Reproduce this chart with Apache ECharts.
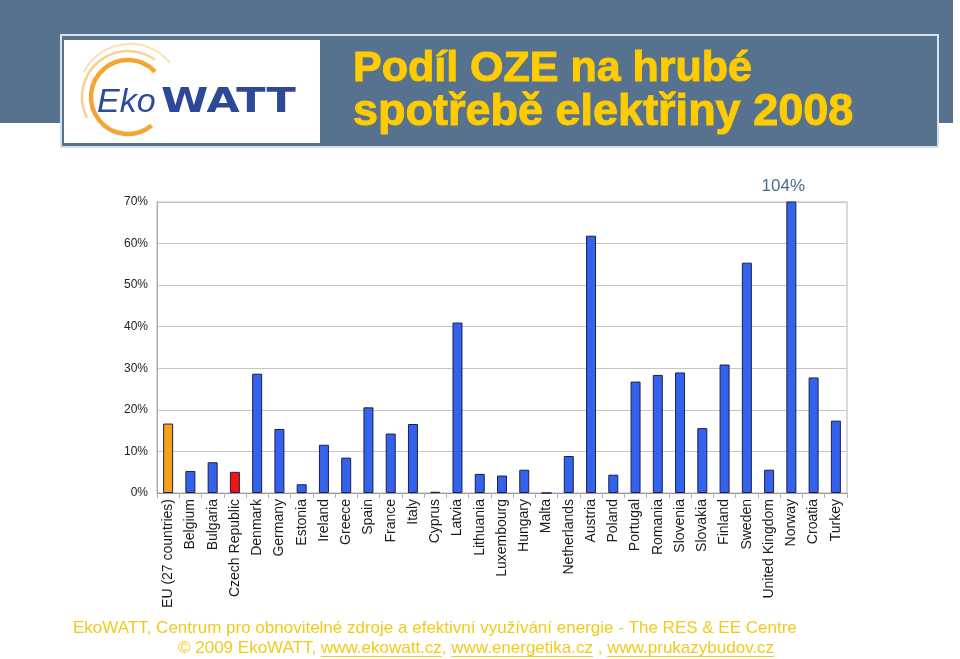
<!DOCTYPE html>
<html>
<head>
<meta charset="utf-8">
<script src="https://cdn.jsdelivr.net/npm/echarts@6/dist/echarts.min.js"></script>
<style>
  html, body { margin: 0; padding: 0; background: #fff; }
  #chart { width: 960px; height: 659px; }
</style>
</head>
<body>
<div id="chart"></div>
<script>
// data
const countries = ['EU (27 countries)', 'Belgium', 'Bulgaria', 'Czech Republic', 'Denmark', 'Germany',
  'Estonia', 'Ireland', 'Greece', 'Spain', 'France', 'Italy', 'Cyprus', 'Latvia', 'Lithuania',
  'Luxembourg', 'Hungary', 'Malta', 'Netherlands', 'Austria', 'Poland', 'Portugal', 'Romania',
  'Slovenia', 'Slovakia', 'Finland', 'Sweden', 'United Kingdom', 'Norway', 'Croatia', 'Turkey']
const shareOZE = [16.7, 5.3, 7.4, 5.1, 28.7, 15.4, 2.1, 11.6, 8.5, 20.6, 14.3, 16.6, 0.3, 41.0, 4.6,
  4.2, 5.6, 0, 8.9, 61.9, 4.4, 26.8, 28.4, 29.0, 15.6, 30.9, 55.4, 5.6, 104, 27.8, 17.4]
const yTicks = [0, 10, 20, 30, 40, 50, 60, 70]

const footer1 = 'EkoWATT, Centrum pro obnovitelné zdroje a efektivní využívání energie - The RES & EE Centre'
const footerPrefix = '© 2009 EkoWATT, '
const footerLinks = ['www.ekowatt.cz', 'www.energetika.cz ', 'www.prukazybudov.cz']
const footerSeps = [', ', ', ', '']

const chart = echarts.init(document.getElementById('chart'))

// barvy sloupcu: EU oranzova, CR cervena, ostatni modre
const barColor = (name) => {
  if (name === 'EU (27 countries)') return '#f7a11a'
  if (name === 'Czech Republic') return '#ee1410'
  return '#3363ec'
}

const seriesData = shareOZE.map((v, i) => {
  const item = { value: v, itemStyle: { color: barColor(countries[i]) } }
  // Norsko presahuje osu -> popisek nad grafem
  if (v > yTicks[yTicks.length - 1]) {
    item.label = {
      show: true,
      position: 'top',
      distance: 7,
      offset: [-8, 0],
      formatter: v + '%',
      color: '#4d6b90',
      fontSize: 17,
      fontFamily: 'Liberation Sans'
    }
  }
  return item
})

// paticka - podtrzene odkazy
const footerFont = '17px "Liberation Sans"'
const footerColor = '#f0cb1c'
const ctx = document.createElement('canvas').getContext('2d')
ctx.font = footerFont
const footerGraphics = []
let fx = 178
const f2y = 648
const fullLine2 = footerPrefix + footerLinks.map((l, i) => l + footerSeps[i]).join('')
footerGraphics.push({
  type: 'text', x: fx, y: f2y, z: 4,
  style: { text: fullLine2, font: footerFont, fill: footerColor, verticalAlign: 'middle' }
})
fx += ctx.measureText(footerPrefix).width
footerLinks.forEach((l, i) => {
  const w = ctx.measureText(l.trim()).width
  footerGraphics.push({
    type: 'rect', z: 4,
    shape: { x: fx, y: f2y + 8, width: w, height: 1 },
    style: { fill: footerColor }
  })
  fx += ctx.measureText(l + footerSeps[i]).width
})

const option = {
  backgroundColor: '#fff',
  animation: false,
  textStyle: { fontFamily: 'Liberation Sans' },
  graphic: [
    // hlavicka
    { type: 'rect', shape: { x: 0, y: 0, width: 953, height: 123 }, style: { fill: '#56728f' }, z: 0 },
    { type: 'rect', shape: { x: 61, y: 35, width: 877, height: 112 }, style: { fill: '#56728f', stroke: '#d4e2ee', lineWidth: 2 }, z: 1 },
    { type: 'rect', shape: { x: 64, y: 40, width: 256, height: 103 }, style: { fill: '#fff' }, z: 2 },
    // logo
    { type: 'arc', shape: { cx: 128, cy: 97, r: 37, startAngle: Math.PI * 0.28, endAngle: Math.PI * 1.76 }, style: { stroke: '#f4a533', lineWidth: 4.5, fill: null }, z: 3 },
    { type: 'arc', shape: { cx: 128, cy: 97, r: 46, startAngle: Math.PI * 0.85, endAngle: Math.PI * 1.7 }, style: { stroke: '#f8d090', lineWidth: 2.5, fill: null }, z: 3 },
    { type: 'arc', shape: { cx: 130, cy: 96, r: 52, startAngle: Math.PI * 1.15, endAngle: Math.PI * 1.78 }, style: { stroke: '#fbe1b6', lineWidth: 2, fill: null }, z: 3 },
    {
      type: 'text', x: 97, y: 120, z: 4,
      style: {
        text: 'Eko', fontSize: 34, fontStyle: 'italic', fontFamily: 'Liberation Sans',
        fill: '#2c4b9b', verticalAlign: 'bottom'
      }
    },
    {
      type: 'text', x: 161, y: 120, z: 4, scaleX: 1.3,
      style: {
        text: 'WATT', fontSize: 33, fontWeight: 'bold', fontFamily: 'DejaVu Sans',
        fill: '#2c4896', verticalAlign: 'bottom'
      }
    },
    // nadpis
    {
      type: 'text', x: 353, y: 48, z: 4,
      style: {
        text: 'Podíl OZE na hrubé',
        fontSize: 43, fontWeight: 'bold', fontFamily: 'Liberation Sans',
        fill: '#ffcc00', stroke: '#ffcc00', lineWidth: 1, verticalAlign: 'top'
      }
    },
    {
      type: 'text', x: 353, y: 90, z: 4,
      style: {
        text: 'spotřebě elektřiny 2008',
        fontSize: 45, fontWeight: 'bold', fontFamily: 'Liberation Sans',
        fill: '#ffcc00', stroke: '#ffcc00', lineWidth: 1, verticalAlign: 'top'
      }
    },
    // paticka
    {
      type: 'text', x: 73, y: 628, z: 4,
      style: { text: footer1, font: footerFont, fill: footerColor, verticalAlign: 'middle' }
    }
  ].concat(footerGraphics),
  grid: {
    left: 157,
    right: 113,
    top: 202,
    bottom: 166,
    show: true,
    borderColor: '#b4b4b4',
    borderWidth: 1
  },
  xAxis: {
    type: 'category',
    data: countries,
    axisLine: { lineStyle: { color: '#9a9a9a' } },
    axisTick: { show: true, length: 5, lineStyle: { color: '#b0b0b0' } },
    axisLabel: {
      rotate: 90,
      interval: 0,
      margin: 6,
      fontSize: 14,
      color: '#1a1a1a',
      fontFamily: 'Liberation Sans'
    }
  },
  yAxis: {
    type: 'value',
    min: yTicks[0],
    max: yTicks[yTicks.length - 1],
    interval: 10,
    axisLine: { show: true, lineStyle: { color: '#a8a8a8' } },
    axisTick: { show: false },
    splitLine: { lineStyle: { color: '#c6c6c6' } },
    axisLabel: {
      margin: 9,
      fontSize: 12,
      color: '#222',
      fontFamily: 'Liberation Sans',
      formatter: '{value}%'
    }
  },
  series: [
    {
      type: 'bar',
      data: seriesData,
      barWidth: 10,
      itemStyle: { borderColor: '#1c1f4c', borderWidth: 1 }
    }
  ]
}
chart.setOption(option)
</script>
</body>
</html>
